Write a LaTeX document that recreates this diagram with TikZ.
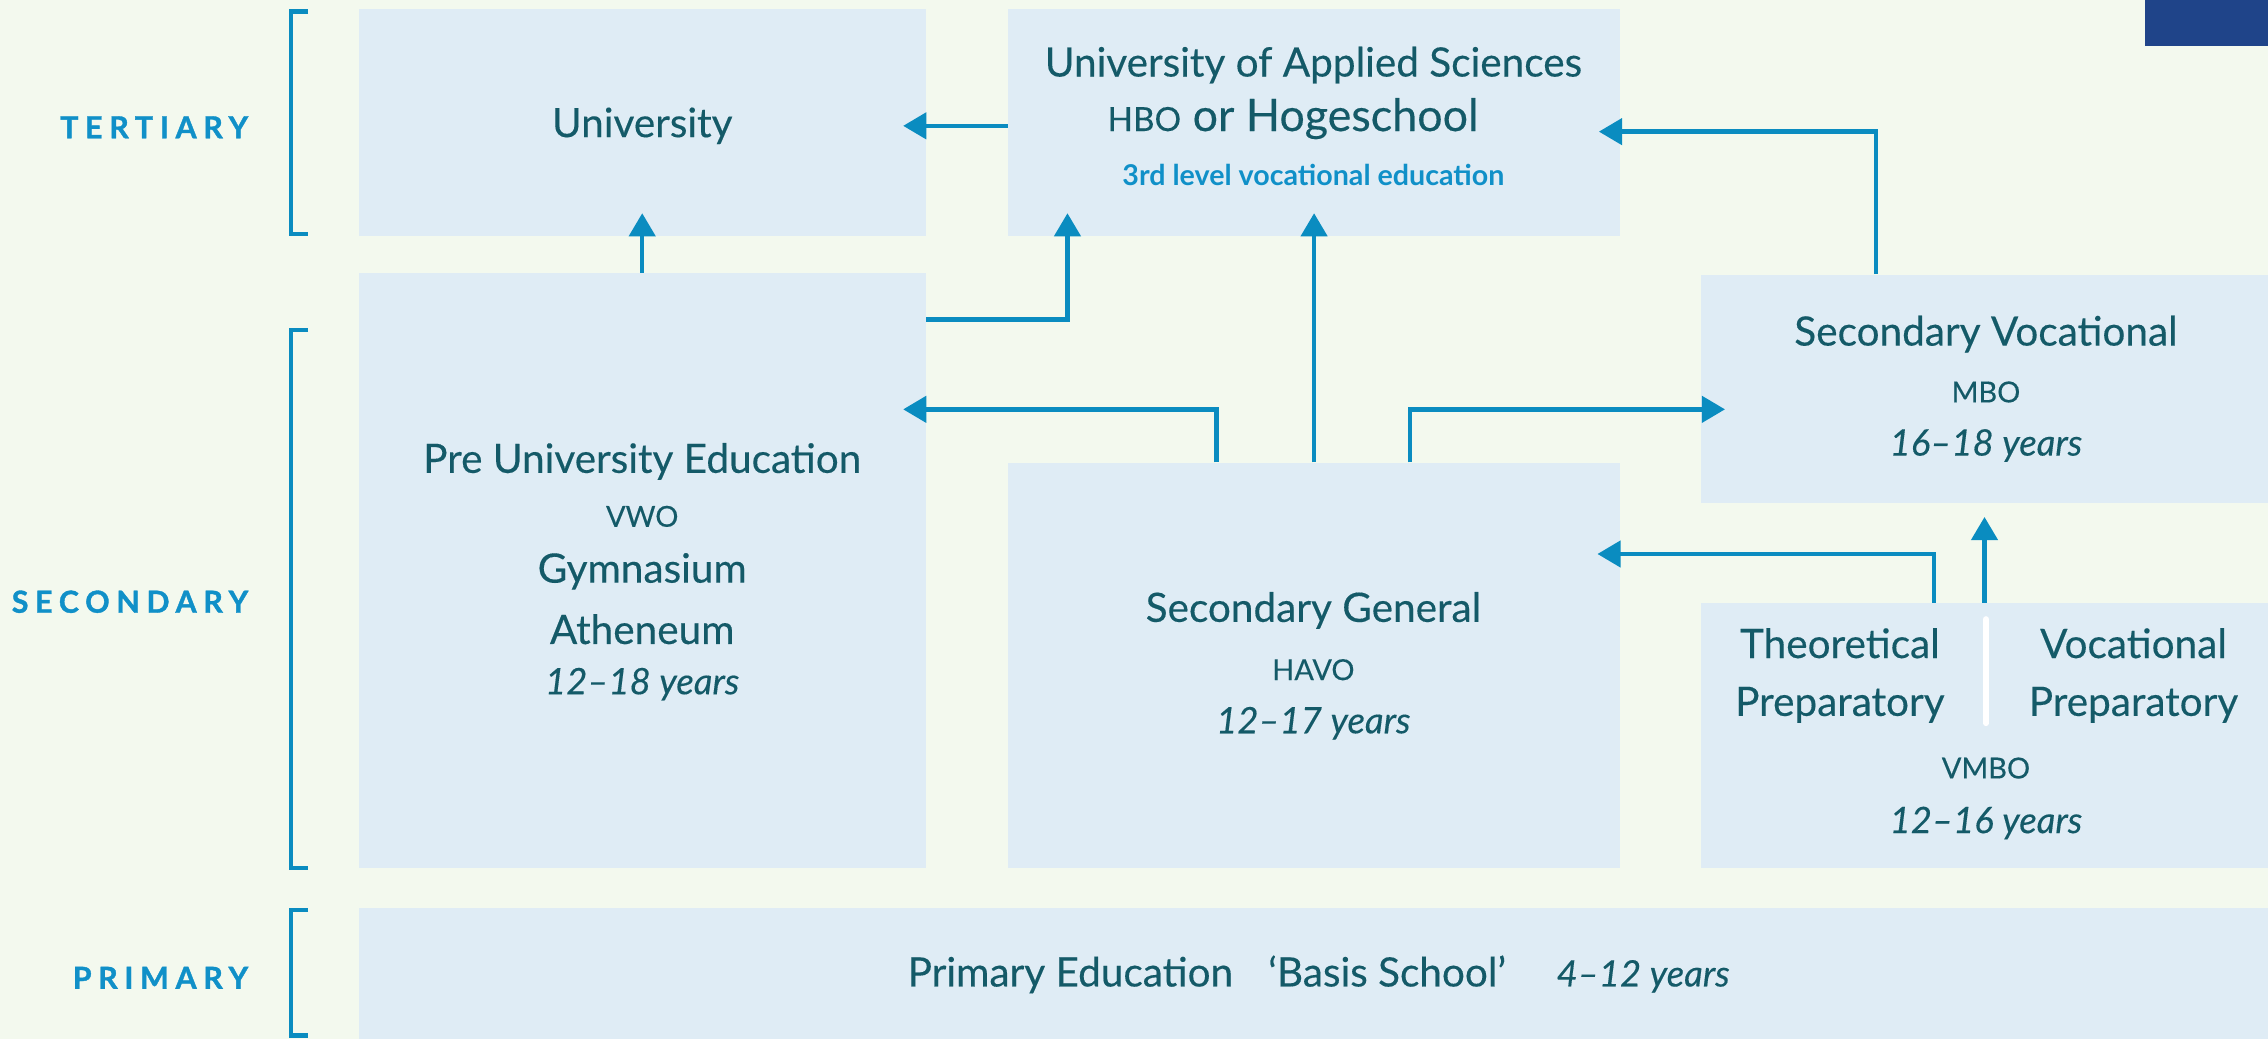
\documentclass[tikz,border=0pt]{standalone}
\usepackage{fontspec}
\setmainfont{Lato}
\usetikzlibrary{arrows.meta}
\definecolor{bg}{HTML}{F3F9EE}
\definecolor{boxc}{HTML}{DFECF5}
\definecolor{arrc}{HTML}{0A8CC0}
\definecolor{txt}{HTML}{145A68}
\definecolor{lblc}{HTML}{1090C8}
\definecolor{navy}{HTML}{1F4489}
\begin{document}
\begin{tikzpicture}[x=0.5pt,y=-0.5pt,
 box/.style={fill=boxc, draw=none, inner sep=0pt},
 arr/.style={draw=arrc, line width=1.5pt, -{Triangle[length=8pt,width=9pt]}},
 brk/.style={draw=arrc, line width=1.5pt},
 lbl/.style={text=lblc, font=\fontsize{10.5}{12}\selectfont\bfseries\addfontfeature{LetterSpace=22,FakeBold=1.2}, anchor=east, inner sep=0pt},
 ttl/.style={text=txt, font=\fontsize{14}{17}\selectfont\addfontfeature{FakeBold=0.3}, inner sep=0pt},
 sub/.style={text=txt, font=\fontsize{10}{12}\selectfont\addfontfeature{FakeBold=0.3}, inner sep=0pt},
 yrs/.style={text=txt, font=\fontsize{12.6}{15}\selectfont\itshape\addfontfeature{FakeBold=0.3}, inner sep=0pt},
]
\fill[bg] (0,0) rectangle (1568,718);
\useasboundingbox (0,0) rectangle (1568,718);
\fill[navy] (1483,0) rectangle (1568,32);

% boxes
\node[box, minimum width=196pt, minimum height=78.5pt] (uni) at (444,84.5) {};
\node[box, minimum width=211.5pt, minimum height=78.5pt] (uas) at (908.5,84.5) {};
\node[box, minimum width=196pt, minimum height=205.5pt] (pre) at (444,394.5) {};
\node[box, minimum width=211.5pt, minimum height=140pt] (gen) at (908.5,460) {};
\node[box, minimum width=196pt, minimum height=79pt] (voc) at (1372,269) {};
\node[box, minimum width=196pt, minimum height=91.5pt] (vmbo) at (1372,508.5) {};
\node[box, minimum width=660pt, minimum height=45pt] (prim) at (908,673) {};

% level labels and brackets
\node[lbl] (lt) at (172,88) {TERTIARY};
\node[lbl] (ls) at (172,416) {SECONDARY};
\node[lbl] (lp) at (172,676) {PRIMARY};
\draw[brk] (213,8) -- (201,8) -- (201,162) -- (213,162);
\draw[brk] (213,228) -- (201,228) -- (201,600) -- (213,600);
\draw[brk] (213,629) -- (201,629) -- (201,716) -- (213,716);

% texts
\node[ttl] (uniT) at (444,87) {University};
\node[ttl] (uasT1) at (908,45) {University of Applied Sciences};
\node[ttl, font=\fontsize{15.5}{18}\selectfont\addfontfeature{FakeBold=0.3}] (uasT2) at (894,82) {{\fontsize{11.5}{13}\selectfont HBO} or Hogeschool};
\node[inner sep=0pt, text=lblc, font=\fontsize{9.9}{11}\selectfont\bfseries] (uasT3) at (908,121) {3rd level vocational education};

\node[ttl] (preT1) at (444,319) {Pre University Education};
\node[sub] (preT2) at (444,357) {VWO};
\node[ttl] (preT3) at (444,395) {Gymnasium};
\node[ttl] (preT4) at (444,435) {Atheneum};
\node[yrs] (preT5) at (444,473) {12--18 years};

\node[ttl] (genT1) at (908,422) {Secondary General};
\node[sub] (genT2) at (908,463) {HAVO};
\node[yrs] (genT3) at (908,500) {12--17 years};

\node[ttl] (vocT1) at (1373,231) {Secondary Vocational};
\node[sub] (vocT2) at (1373,271) {MBO};
\node[yrs] (vocT3) at (1373,308) {16--18 years};

\node[ttl, align=center, font=\fontsize{14}{20}\selectfont\addfontfeature{FakeBold=0.3}] (vmT1) at (1272,467) {Theoretical\\Preparatory};
\node[ttl, align=center, font=\fontsize{14}{20}\selectfont\addfontfeature{FakeBold=0.3}] (vmT2) at (1475,467) {Vocational\\Preparatory};
\draw[white, line width=2pt, line cap=round] (1373,428) -- (1373,500);
\node[sub] (vmT3) at (1373,531) {VMBO};
\node[yrs] (vmT4) at (1373,569) {12--16 years};

\node[ttl, anchor=base] (primT1) at (740,682) {Primary Education};
\node[ttl, anchor=base] (primT2) at (959,682) {‘Basis School’};
\node[yrs, anchor=base] (primT3) at (1136,682) {4--12 years};

% connectors
\draw[arr, shorten >=-8pt] (uas.west |- 0,87) -- (uni.east |- 0,87);
\draw[arr, shorten >=-8pt] (pre.north) -- (uni.south);
\draw[arr, shorten >=-8pt] (pre.east |- 0,221) -| (738,0 |- uas.south);
\draw[arr, shorten >=-8pt] (gen.north) -- (uas.south);
\draw[arr, shorten >=-8pt] (841,0 |- gen.north) |- (pre.east |- 0,283);
\draw[arr, shorten >=-8.5pt] (975,0 |- gen.north) |- (voc.west |- 0,283);
\draw[arr, shorten >=-7.5pt] (1297,0 |- voc.north) |- (uas.east |- 0,91);
\draw[arr, shorten >=-8pt] (1337,0 |- vmbo.north) |- (gen.east |- 0,383);
\draw[arr, shorten >=4.5pt] (vmbo.north) -- (voc.south);
\end{tikzpicture}
\end{document}
